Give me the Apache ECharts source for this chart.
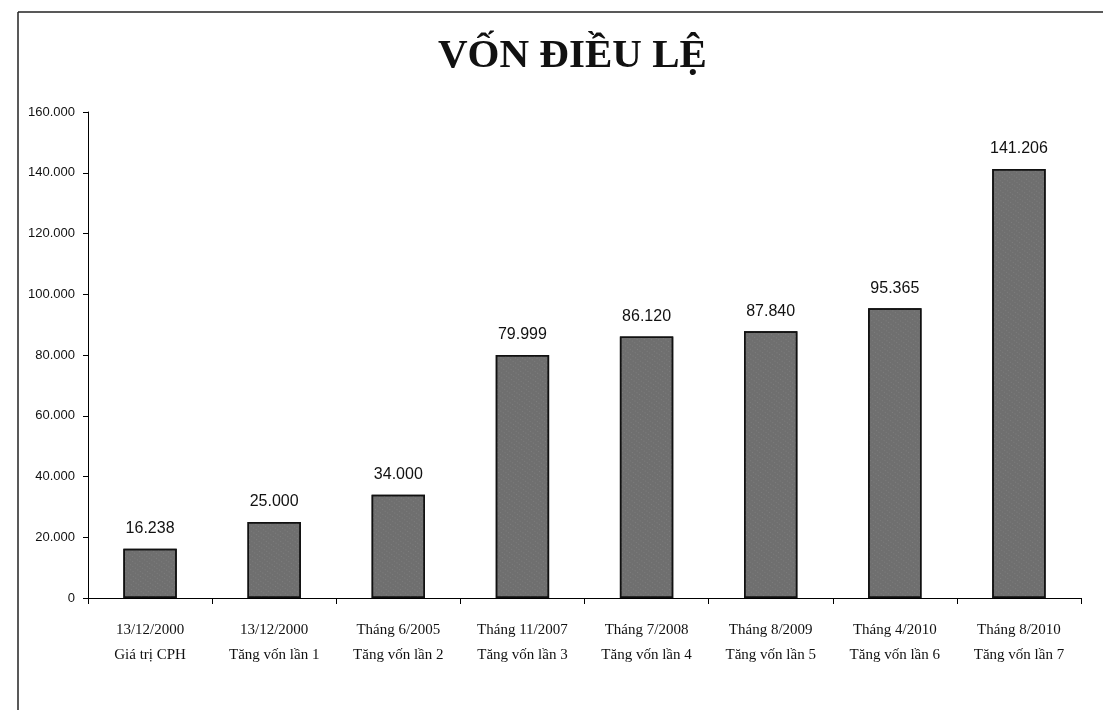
<!DOCTYPE html>
<html>
<head>
<meta charset="utf-8">
<script src="https://cdn.jsdelivr.net/npm/echarts@6/dist/echarts.min.js"></script>
<style>
html,body{margin:0;padding:0;background:#fff;}
#c{width:1103px;height:710px;}
</style>
</head>
<body>
<div id="c"></div>
<script>
const titleText = 'VỐN ĐIỀU LỆ';
const dates = ['13/12/2000','13/12/2000','Tháng 6/2005','Tháng 11/2007','Tháng 7/2008','Tháng 8/2009','Tháng 4/2010','Tháng 8/2010'];
const events = ['Giá trị CPH','Tăng vốn lần 1','Tăng vốn lần 2','Tăng vốn lần 3','Tăng vốn lần 4','Tăng vốn lần 5','Tăng vốn lần 6','Tăng vốn lần 7'];
const values = [16238, 25000, 34000, 79999, 86120, 87840, 95365, 141206];
const yMin = 0, yMax = 160000, yStep = 20000;

const categories = dates.map((d, i) => d + '\n' + events[i]);
function fmt(v){ return String(v).replace(/\B(?=(\d{3})+(?!\d))/g, '.'); }

const chart = echarts.init(document.getElementById('c'), null, {renderer:'canvas'});
chart.setOption({
  animation:false,
  backgroundColor:'#fff',
  title:{
    text:titleText, left:433, top:31,
    textStyle:{fontFamily:'Liberation Serif', fontWeight:'bold', fontSize:41, color:'#111'}
  },
  graphic:[
    {type:'line', shape:{x1:18,y1:12,x2:1103,y2:12}, style:{stroke:'#222', lineWidth:1.5}},
    {type:'line', shape:{x1:18,y1:12,x2:18,y2:710}, style:{stroke:'#222', lineWidth:1.5}}
  ],
  grid:{left:88, right:22, top:112, bottom:112, containLabel:false},
  xAxis:{
    type:'category', data:categories,
    axisLine:{lineStyle:{color:'#000', width:1}},
    axisTick:{show:true, length:6, lineStyle:{color:'#000'}},
    axisLabel:{fontFamily:'Liberation Serif', fontSize:15, color:'#111', lineHeight:25, margin:20, interval:0}
  },
  yAxis:{
    type:'value', min:yMin, max:yMax, interval:yStep,
    splitLine:{show:false},
    axisLine:{show:true, lineStyle:{color:'#000', width:1}},
    axisTick:{show:true, length:5, lineStyle:{color:'#000'}},
    axisLabel:{fontFamily:'Liberation Sans', fontSize:13, color:'#111', margin:13, formatter:v=>fmt(v)}
  },
  series:[{
    type:'bar', data:values, barWidth:'43%',
    itemStyle:{
      color:'#6f6f6f', borderColor:'#111', borderWidth:1.5,
      decal:{symbol:'rect', symbolSize:0.6, color:'rgba(255,255,255,0.35)', dashArrayX:[1,2], dashArrayY:[1,3], rotation:0.6}
    },
    label:{show:true, position:'top', distance:12, fontFamily:'Liberation Sans', fontSize:16, color:'#111', formatter:p=>fmt(p.value)}
  }]
});
</script>
</body>
</html>
